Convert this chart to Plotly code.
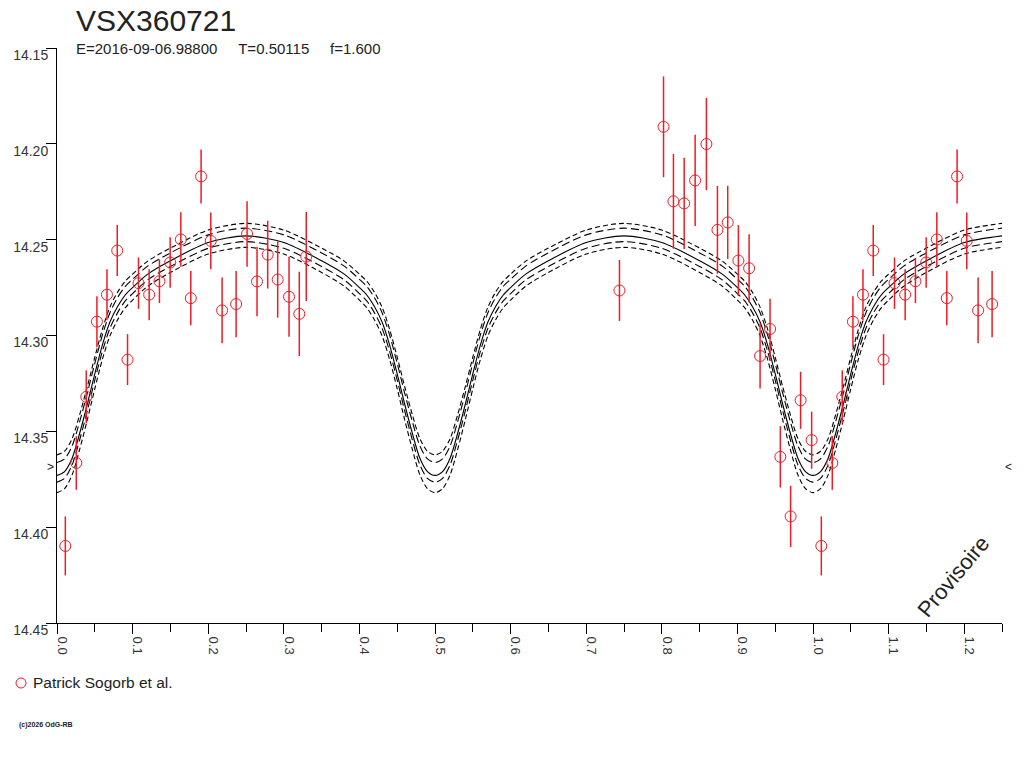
import plotly.graph_objects as go

# observations : phase, magnitude, error  (Patrick Sogorb et al.)
phase = [0.011, 0.0255, 0.0387, 0.0528, 0.0661, 0.0797, 0.0933, 0.1078, 0.1219, 0.1355,
         0.1497, 0.1638, 0.1770, 0.1906, 0.2034, 0.2184, 0.2369, 0.2514, 0.2646, 0.2787,
         0.2919, 0.3069, 0.3205, 0.3297, 0.744, 0.8023, 0.8154, 0.8296, 0.8441, 0.8590,
         0.8736, 0.8872, 0.9013, 0.9155, 0.930, 0.9432, 0.9568, 0.9704, 0.9836, 0.9982]
mag = [14.4098, 14.3665, 14.332, 14.2928, 14.2787, 14.2557, 14.3126, 14.2727, 14.2787, 14.2717,
       14.2619, 14.2499, 14.2805, 14.2170, 14.2506, 14.2869, 14.2836, 14.2470, 14.2718, 14.2578,
       14.2708, 14.2798, 14.2887, 14.2588, 14.2765, 14.1911, 14.2300, 14.2311, 14.2191, 14.2001,
       14.2449, 14.2410, 14.2609, 14.2649, 14.3107, 14.2966, 14.3633, 14.3944, 14.3338, 14.3546]
err = [0.0154, 0.014, 0.0138, 0.0133, 0.0133, 0.0133, 0.0133, 0.0134, 0.0133, 0.0114,
       0.0132, 0.0142, 0.0141, 0.0141, 0.0148, 0.0172, 0.0173, 0.0171, 0.0181, 0.0177,
       0.0199, 0.0209, 0.022, 0.0232, 0.0159, 0.0263, 0.0247, 0.0238, 0.0238, 0.0241,
       0.0229, 0.0191, 0.0185, 0.0177, 0.0169, 0.0158, 0.016, 0.016, 0.0149, 0.0149]

# model : half profile, distance in phase from a minimum
model_dphase = [0.0, 0.01, 0.02, 0.03, 0.04, 0.05, 0.06, 0.07, 0.08, 0.09, 0.10, 0.12, 0.15, 0.20, 0.25]
model_mid = [14.373, 14.371, 14.364, 14.351, 14.336, 14.320, 14.305, 14.293, 14.285, 14.279,
             14.275, 14.268, 14.261, 14.2515, 14.248]
model_out_hi = [14.3623, 14.3604, 14.3538, 14.3413, 14.3268, 14.3113, 14.2968, 14.2852, 14.2775, 14.2718,
                14.268, 14.2612, 14.2544, 14.245, 14.2415]
model_in_hi = [14.3663, 14.3644, 14.3576, 14.3449, 14.3302, 14.3145, 14.2998, 14.2881, 14.2803, 14.2745,
               14.2707, 14.2638, 14.2569, 14.2475, 14.244]
model_in_lo = [14.3765, 14.3745, 14.3675, 14.3544, 14.3394, 14.3233, 14.3083, 14.2962, 14.2882, 14.2821,
               14.2781, 14.271, 14.264, 14.2545, 14.251]
model_out_lo = [14.382, 14.3799, 14.3727, 14.3594, 14.3441, 14.3278, 14.3125, 14.3002, 14.2919, 14.2857,
                14.2815, 14.2743, 14.2671, 14.2575, 14.254]

minima = [0.0, 0.5, 1.0]
x_max = 1.25
min_level = 14.3686

yticks = [14.15, 14.20, 14.25, 14.30, 14.35, 14.40, 14.45]


def unfold(profile):
    pts = {}
    for m in minima:
        for d, v in zip(model_dphase, profile):
            for x in (m - d, m + d):
                if -1e-9 <= x <= x_max + 1e-9:
                    pts[round(x, 4)] = v
    xs = sorted(pts)
    return xs, [pts[x] for x in xs]


# plot area is 945 x 575 px ; helpers to place things in page pixels
def px(x):
    return (x - 57) / 945


def py(y):
    return (623 - y) / 575


fig = go.Figure()

styles = [(model_out_hi, "5px,3px"), (model_in_hi, "8px,4px"),
          (model_mid, "solid"), (model_in_lo, "8px,4px"), (model_out_lo, "5px,3px")]
for prof, dash in styles:
    xs, ys = unfold(prof)
    fig.add_trace(go.Scatter(x=xs, y=ys, mode="lines", showlegend=False, hoverinfo="skip",
                             line=dict(color="black", width=1.1, dash=dash, shape="spline", smoothing=0.8)))

# phases < 0.25 are repeated after phase 1
ph_all = phase + [p + 1 for p in phase if p + 1 <= x_max]
mag_all = mag + [m for p, m in zip(phase, mag) if p + 1 <= x_max]
err_all = err + [e for p, e in zip(phase, err) if p + 1 <= x_max]

fig.add_trace(go.Scatter(
    x=ph_all, y=mag_all, mode="markers", name="Patrick Sogorb et al.", showlegend=False,
    marker=dict(symbol="circle-open", size=11, color="#ee1c25", line=dict(width=1)),
    error_y=dict(type="data", array=err_all, color="#ee1c25", thickness=1.5, width=0),
))

fig.update_layout(
    width=1024, height=768,
    margin=dict(l=57, r=22, t=48, b=145),
    paper_bgcolor="white", plot_bgcolor="white",
    font=dict(family="Liberation Sans, Arial", color="#222"),
    xaxis=dict(range=[0, x_max], showgrid=False, zeroline=False, automargin=False,
               showline=True, linecolor="black", linewidth=1,
               tickmode="linear", tick0=0, dtick=0.1, tickformat=".1f",
               ticks="outside", ticklen=10, tickcolor="black", tickangle=90,
               ticklabelshift=5,
               tickfont=dict(size=13, color="#333"),
               minor=dict(dtick=0.05, ticks="outside", ticklen=8, tickcolor="black")),
    yaxis=dict(range=[14.45, 14.15], showgrid=False, zeroline=False, automargin=False,
               showline=True, linecolor="black", linewidth=1,
               tickvals=yticks, tickformat=".2f",
               ticks="outside", ticklen=10, tickcolor="black",
               ticklabelshift=-7, ticklabelstandoff=-5,
               tickfont=dict(size=14, color="#333")),
)

fig.add_annotation(text="VSX360721", xref="paper", yref="paper",
                   x=px(74), y=py(20), xanchor="left", yanchor="middle",
                   showarrow=False, font=dict(size=30, color="#222"))
fig.add_annotation(text="E=2016-09-06.98800&nbsp;&nbsp;&nbsp;&nbsp;&nbsp;T=0.50115&nbsp;&nbsp;&nbsp;&nbsp;&nbsp;f=1.600",
                   xref="paper", yref="paper",
                   x=px(74), y=py(48), xanchor="left", yanchor="middle",
                   showarrow=False, font=dict(size=15, color="#222"))
fig.add_annotation(text="Provisoire", xref="paper", yref="paper",
                   x=px(953), y=py(576), xanchor="center", yanchor="middle", textangle=-50,
                   showarrow=False, font=dict(size=22, color="#222"))
fig.add_annotation(text=">", x=0, y=min_level, xanchor="right", xshift=-1,
                   showarrow=False, font=dict(size=12, color="#222"))
fig.add_annotation(text="<", x=x_max, y=min_level, xanchor="left", xshift=1,
                   showarrow=False, font=dict(size=12, color="#222"))

# legend
fig.add_shape(type="circle", xref="paper", yref="paper",
              x0=px(16), x1=px(26), y0=py(688), y1=py(678),
              line=dict(color="#ee1c25", width=1))
fig.add_annotation(text="Patrick Sogorb et al.", xref="paper", yref="paper",
                   x=px(31), y=py(682), xanchor="left", yanchor="middle",
                   showarrow=False, font=dict(size=15.5, color="#222"))
fig.add_annotation(text="<b>(c)2026 OdG-RB</b>", xref="paper", yref="paper",
                   x=px(17), y=py(725), xanchor="left", yanchor="middle",
                   showarrow=False, font=dict(size=7, color="#222"))

# page body margin off, so the figure fills the window from its corner
fig.write_html("out.html", config={"displayModeBar": False},
               post_script="document.body.style.margin='0px';")
